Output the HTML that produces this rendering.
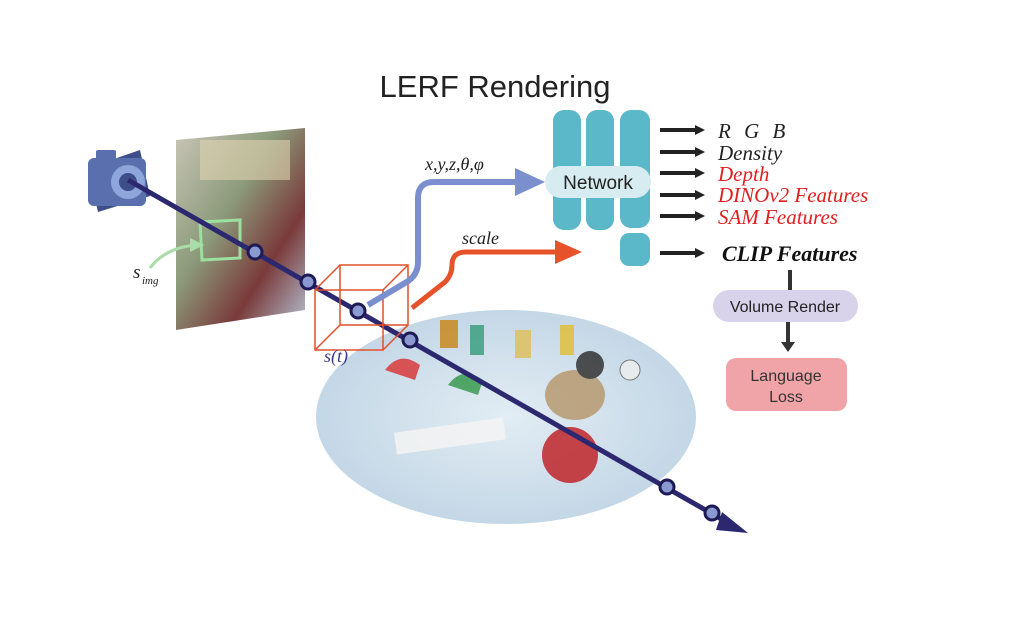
<!DOCTYPE html>
<html><head><meta charset="utf-8"><style>
html,body{margin:0;padding:0;background:#fff;}
svg{display:block}
</style></head><body>
<svg width="1026" height="641" viewBox="0 0 1026 641" xmlns="http://www.w3.org/2000/svg">
<defs>
<marker id="ab" markerWidth="10" markerHeight="10" refX="5" refY="5" orient="auto" markerUnits="userSpaceOnUse" viewBox="0 0 10 10"><path d="M0,0 L10,5 L0,10 z" fill="#222"/></marker>
<linearGradient id="img" x1="0" y1="0" x2="1" y2="1"><stop offset="0" stop-color="#c9c6b8"/><stop offset="0.4" stop-color="#8c9a7a"/><stop offset="0.7" stop-color="#7a3a3a"/><stop offset="1" stop-color="#b5c4d6"/></linearGradient>
<radialGradient id="tab" cx="0.5" cy="0.5" r="0.5"><stop offset="0" stop-color="#e2edf4"/><stop offset="1" stop-color="#c4d7e6"/></radialGradient>
</defs>
<!-- table -->
<ellipse cx="506" cy="417" rx="190" ry="107" fill="url(#tab)"/>
<g opacity="0.85">
<rect x="395" y="425" width="110" height="22" fill="#f4f4f4" transform="rotate(-8 450 436)"/>
<circle cx="570" cy="455" r="28" fill="#c0262a"/>
<ellipse cx="575" cy="395" rx="30" ry="25" fill="#b89a70"/>
<circle cx="590" cy="365" r="14" fill="#333"/>
<rect x="440" y="320" width="18" height="28" fill="#c98a20"/>
<rect x="470" y="325" width="14" height="30" fill="#3ca080"/>
<rect x="515" y="330" width="16" height="28" fill="#e0c060"/>
<rect x="560" y="325" width="14" height="30" fill="#e0c040"/>
<path d="M385 370 q15 -20 35 -5 l-5 15z" fill="#d83a3a"/>
<path d="M448 385 q15 -20 35 -5 l-5 15z" fill="#3a9a50"/>
<circle cx="630" cy="370" r="10" fill="#eee" stroke="#666"/>
</g>
<!-- image plane -->
<polygon points="176,140 305,128 305,310 176,330" fill="url(#img)"/>
<rect x="200" y="140" width="90" height="40" fill="#e0d4b0" opacity="0.6"/>
<polygon points="200,222 240,220 240,258 202,260" fill="none" stroke="#9be0a0" stroke-width="3"/>
<!-- camera -->
<g>
<polygon points="88,168 140,150 150,196 98,212" fill="#3e4e8a"/>
<rect x="88" y="158" width="58" height="48" rx="6" fill="#5a6fae"/>
<rect x="96" y="150" width="20" height="10" rx="2" fill="#5a6fae"/>
<circle cx="128" cy="182" r="17" fill="#8fa6dc"/>
<circle cx="128" cy="182" r="9" fill="#3e4e8a"/>
</g>
<!-- ray -->
<line x1="128" y1="180" x2="730" y2="524" stroke="#2c2870" stroke-width="5"/>
<polygon points="722,512 748,533 716,530" fill="#2c2870"/>
<g fill="#8a9ad0" stroke="#1e1a55" stroke-width="3">
<circle cx="255" cy="252" r="7"/><circle cx="308" cy="282" r="7"/><circle cx="358" cy="311" r="7"/><circle cx="410" cy="340" r="7"/><circle cx="667" cy="487" r="7"/><circle cx="712" cy="513" r="7"/>
</g>
<!-- cube -->
<g fill="none" stroke="#e0502a" stroke-width="1.5">
<rect x="315" y="290" width="68" height="60"/>
<rect x="340" y="265" width="68" height="60"/>
<line x1="315" y1="290" x2="340" y2="265"/><line x1="383" y1="290" x2="408" y2="265"/><line x1="383" y1="350" x2="408" y2="325"/><line x1="315" y1="350" x2="340" y2="325"/>
</g>
<!-- blue arrow -->
<path d="M368 305 L405 283 Q418 276 418 262 L418 198 Q418 182 434 182 L520 182" fill="none" stroke="#7b8fcf" stroke-width="6"/>
<polygon points="515,168 545,182 515,196" fill="#7b8fcf"/>
<!-- orange arrow -->
<path d="M412 308 L445 282 Q452 275 452 265 Q452 252 466 252 L560 252" fill="none" stroke="#e8522a" stroke-width="5"/>
<polygon points="555,240 582,252 555,264" fill="#e8522a"/>
<!-- green s_img arrow -->
<path d="M150 268 Q165 248 195 245" fill="none" stroke="#a8dca8" stroke-width="3"/>
<polygon points="190,238 204,245 190,252" fill="#a8dca8"/>
<!-- network -->
<g fill="#5bb8c9">
<rect x="553" y="110" width="28" height="120" rx="11"/>
<rect x="586" y="110" width="28" height="120" rx="11"/>
<rect x="620" y="110" width="30" height="118" rx="11"/>
<rect x="620" y="233" width="30" height="33" rx="9"/>
</g>
<rect x="545" y="166" width="106" height="32" rx="16" fill="#d6ecf0"/>
<text x="598" y="189" font-family="Liberation Sans, sans-serif" font-size="19" text-anchor="middle" fill="#222">Network</text>
<!-- output arrows -->
<g stroke="#222" stroke-width="4" marker-end="url(#ab)">
<line x1="660" y1="130" x2="700" y2="130"/><line x1="660" y1="152" x2="700" y2="152"/><line x1="660" y1="173" x2="700" y2="173"/><line x1="660" y1="195" x2="700" y2="195"/><line x1="660" y1="216" x2="700" y2="216"/><line x1="660" y1="253" x2="700" y2="253"/>
</g>
<g font-family="Liberation Serif, serif" font-style="italic" font-size="21">
<text x="718" y="138" fill="#222" letter-spacing="4">R G B</text>
<text x="718" y="160" fill="#222">Density</text>
<text x="718" y="181" fill="#e02020">Depth</text>
<text x="718" y="202" fill="#e02020">DINOv2 Features</text>
<text x="718" y="224" fill="#e02020">SAM Features</text>
<text x="722" y="261" fill="#111" font-weight="bold" font-size="22">CLIP Features</text>
<text x="425" y="170" fill="#222" font-size="18">x,y,z,θ,φ</text>
<text x="462" y="244" fill="#222" font-size="18">scale</text>
<text x="324" y="362" fill="#3a3a8a" font-size="18">s(t)</text>
<text x="133" y="278" fill="#222" font-size="19">s</text>
<text x="142" y="284" fill="#222" font-size="11">img</text>
</g>
<text x="495" y="97" font-family="Liberation Sans, sans-serif" font-size="31" text-anchor="middle" fill="#222">LERF Rendering</text>
<!-- volume render -->
<line x1="790" y1="270" x2="790" y2="290" stroke="#333" stroke-width="4"/>
<rect x="713" y="290" width="145" height="32" rx="16" fill="#d8d2ea"/>
<text x="785" y="312" font-family="Liberation Sans, sans-serif" font-size="16" text-anchor="middle" fill="#222">Volume Render</text>
<line x1="788" y1="322" x2="788" y2="345" stroke="#333" stroke-width="4"/>
<polygon points="781,342 795,342 788,352" fill="#333"/>
<rect x="726" y="358" width="121" height="53" rx="10" fill="#f0a4a8"/>
<text x="786" y="381" font-family="Liberation Sans, sans-serif" font-size="16" text-anchor="middle" fill="#333">Language</text>
<text x="786" y="402" font-family="Liberation Sans, sans-serif" font-size="16" text-anchor="middle" fill="#333">Loss</text>
</svg>
</body></html>
